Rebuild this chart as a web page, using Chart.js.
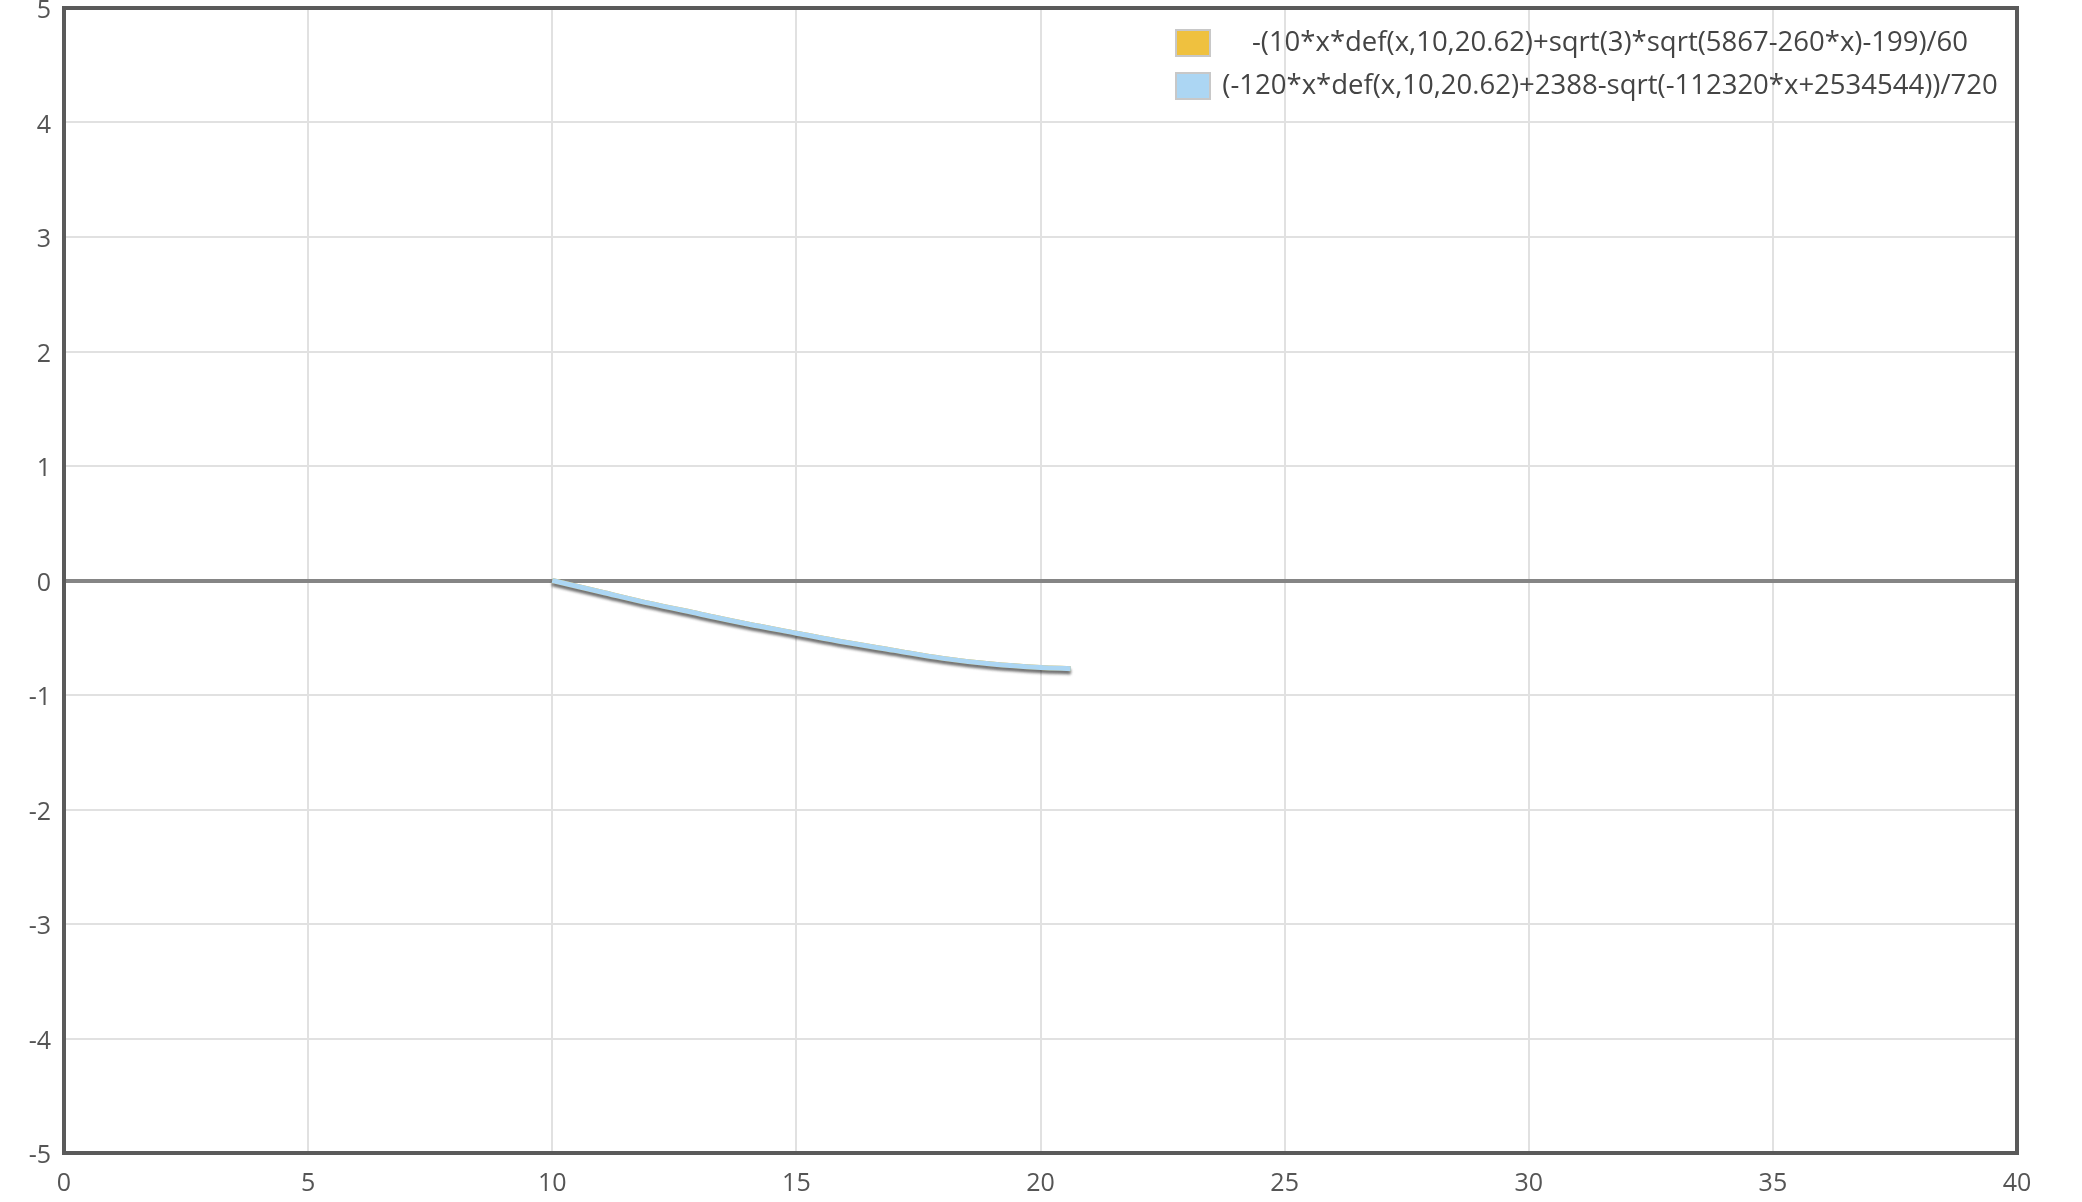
<!DOCTYPE html>
<html>
<head>
<meta charset="utf-8">
<script src="https://cdn.jsdelivr.net/npm/chart.js@4/dist/chart.umd.min.js"></script>
<style>
	html, body { margin: 0; padding: 0; background: #fff; }
	#wrap { width: 2082px; height: 1202px; }
</style>
</head>
<body>
<div id="wrap"><canvas id="chart" width="2082" height="1202"></canvas></div>
<script>
// values
const xValues = [ 10, 11, 12, 13, 14, 15, 16, 17, 18, 19, 20, 20.62 ];
const orangeValues = [ 0, -0.1, -0.2, -0.29, -0.38, -0.46, -0.54, -0.61, -0.68, -0.73, -0.76, -0.77 ];
const blueValues = [ 0, -0.1, -0.2, -0.29, -0.38, -0.46, -0.54, -0.61, -0.68, -0.73, -0.76, -0.77 ];
const seriesLabels = [
	'-(10*x*def(x,10,20.62)+sqrt(3)*sqrt(5867-260*x)-199)/60',
	'(-120*x*def(x,10,20.62)+2388-sqrt(-112320*x+2534544))/720',
];
const seriesColors = [ '#efc13f', '#acd6f3' ];
const xTicks = [ 0, 5, 10, 15, 20, 25, 30, 35, 40 ];
const yTicks = [ -5, -4, -3, -2, -1, 0, 1, 2, 3, 4, 5 ];

const FONT = "'Open Sans', 'Noto Sans', sans-serif";

const toPoints = ( ys ) => xValues.map( ( x, i ) => ( { x, y: ys[ i ] } ) );

const shadowPlugin = {
	id: 'lineShadow',
	beforeDatasetDraw( chart ) {
		const ctx = chart.ctx;
		ctx.save();
		ctx.shadowColor = 'rgba(0, 0, 0, 0.35)';
		ctx.shadowOffsetY = 3;
		ctx.shadowBlur = 3;
	},
	afterDatasetDraw( chart ) {
		chart.ctx.restore();
	},
};

const framePlugin = {
	id: 'frameAndLegend',
	afterDraw( chart ) {
		const { ctx, chartArea } = chart;
		ctx.save();
		ctx.strokeStyle = '#5a5a5a';
		ctx.lineWidth = 4;
		ctx.strokeRect( chartArea.left, chartArea.top, chartArea.right - chartArea.left, chartArea.bottom - chartArea.top );

		// legend, top right inside the plot
		const boxX = chartArea.right - 841;
		const textCenter = chartArea.right - 407;
		ctx.font = '27.5px ' + FONT;
		ctx.textAlign = 'center';
		ctx.textBaseline = 'middle';
		chart.data.datasets.forEach( ( ds, i ) => {
			const cy = 43 + i * 43;
			ctx.fillStyle = ds.borderColor;
			ctx.fillRect( boxX, cy - 13, 34, 26 );
			ctx.strokeStyle = '#c8c8c8';
			ctx.lineWidth = 2;
			ctx.strokeRect( boxX, cy - 13, 34, 26 );
			ctx.fillStyle = '#444';
			ctx.fillText( ds.label, textCenter, cy );
		} );
		ctx.restore();
	},
};

new Chart( document.getElementById( 'chart' ), {
	type: 'line',
	data: {
		datasets: [
			{
				label: seriesLabels[ 0 ],
				data: toPoints( orangeValues ),
				borderColor: seriesColors[ 0 ],
				backgroundColor: seriesColors[ 0 ],
				borderWidth: 5,
				pointRadius: 0,
				cubicInterpolationMode: 'monotone',
				order: 1,
			},
			{
				label: seriesLabels[ 1 ],
				data: toPoints( blueValues ),
				borderColor: seriesColors[ 1 ],
				backgroundColor: seriesColors[ 1 ],
				borderWidth: 5,
				pointRadius: 0,
				cubicInterpolationMode: 'monotone',
				order: 0,
			},
		],
	},
	options: {
		responsive: false,
		animation: false,
		devicePixelRatio: 1,
		layout: {
			padding: { left: 0, top: 8, right: 65, bottom: 0 },
		},
		plugins: {
			legend: { display: false },
			tooltip: { enabled: false },
		},
		scales: {
			x: {
				type: 'linear',
				min: xTicks[ 0 ],
				max: xTicks[ xTicks.length - 1 ],
				afterBuildTicks( scale ) {
					scale.ticks = xTicks.map( ( value ) => ( { value } ) );
				},
				afterFit( scale ) {
					scale.height = 49;
				},
				border: { display: false },
				grid: {
					color: '#e1e1e1',
					lineWidth: 2,
					drawTicks: false,
				},
				ticks: {
					padding: 16,
					color: '#555',
					font: { family: FONT, size: 25 },
					maxRotation: 0,
				},
			},
			y: {
				type: 'linear',
				min: yTicks[ 0 ],
				max: yTicks[ yTicks.length - 1 ],
				afterBuildTicks( scale ) {
					scale.ticks = yTicks.map( ( value ) => ( { value } ) );
				},
				afterFit( scale ) {
					scale.width = 64;
					scale.paddingTop = 0;
					scale.paddingBottom = 0;
				},
				border: { display: false },
				grid: {
					color: ( c ) => ( c.tick && c.tick.value === 0 ? '#858585' : '#e1e1e1' ),
					lineWidth: ( c ) => ( c.tick && c.tick.value === 0 ? 4 : 2 ),
					drawTicks: false,
				},
				ticks: {
					padding: 13,
					labelOffset: 3,
					color: '#555',
					font: { family: FONT, size: 25 },
				},
			},
		},
	},
	plugins: [ shadowPlugin, framePlugin ],
} );
</script>
</body>
</html>
